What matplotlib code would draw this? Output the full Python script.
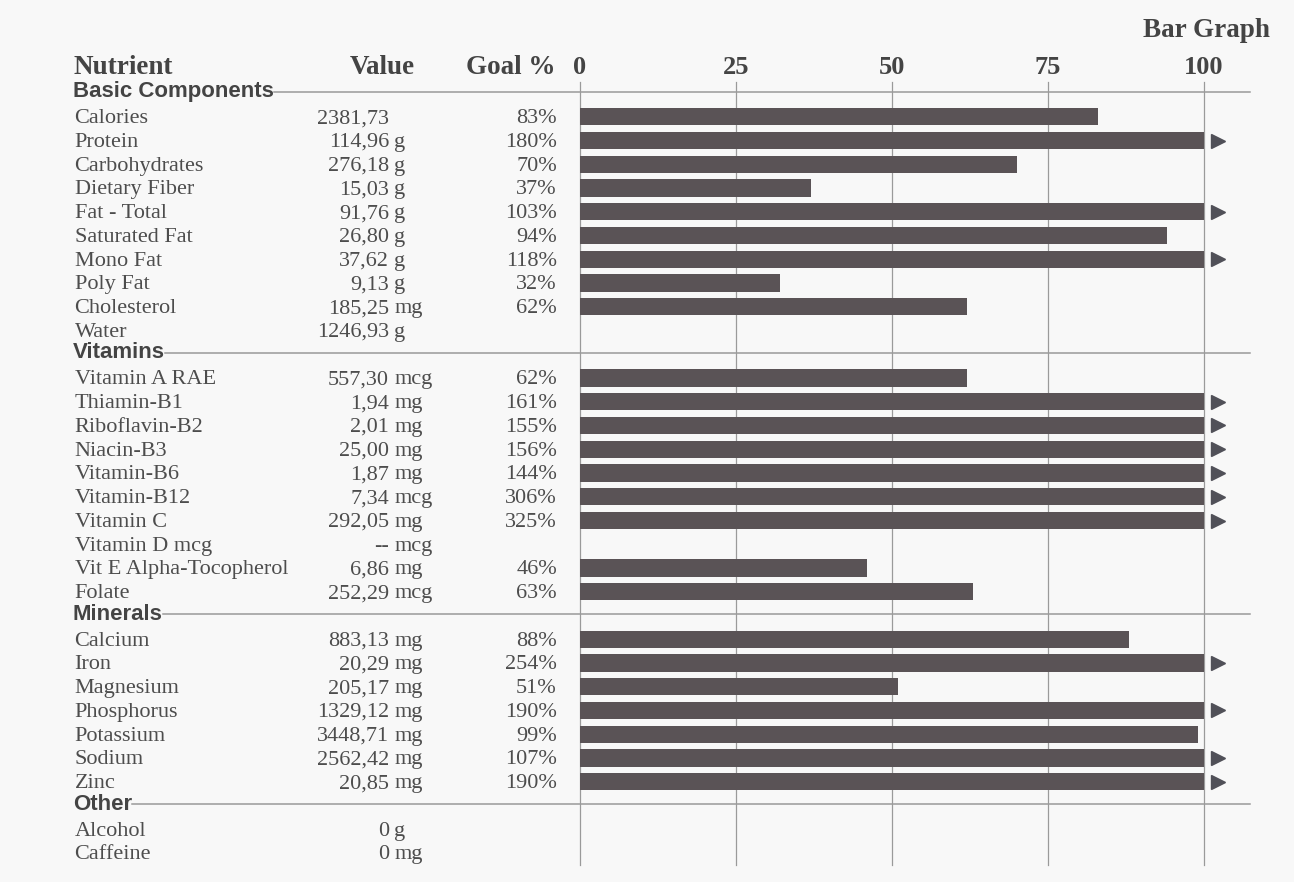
import matplotlib.pyplot as plt

# table data, grouped by section
sections = ["Basic Components", "Vitamins", "Minerals", "Other"]

names = [
    ["Calories", "Protein", "Carbohydrates", "Dietary Fiber", "Fat - Total",
     "Saturated Fat", "Mono Fat", "Poly Fat", "Cholesterol", "Water"],
    ["Vitamin A RAE", "Thiamin-B1", "Riboflavin-B2", "Niacin-B3", "Vitamin-B6",
     "Vitamin-B12", "Vitamin C", "Vitamin D mcg", "Vit E Alpha-Tocopherol", "Folate"],
    ["Calcium", "Iron", "Magnesium", "Phosphorus", "Potassium", "Sodium", "Zinc"],
    ["Alcohol", "Caffeine"],
]
amounts = [
    ["2381,73", "114,96", "276,18", "15,03", "91,76", "26,80", "37,62", "9,13", "185,25", "1246,93"],
    ["557,30", "1,94", "2,01", "25,00", "1,87", "7,34", "292,05", "--", "6,86", "252,29"],
    ["883,13", "20,29", "205,17", "1329,12", "3448,71", "2562,42", "20,85"],
    ["0", "0"],
]
units = [
    ["", "g", "g", "g", "g", "g", "g", "g", "mg", "g"],
    ["mcg", "mg", "mg", "mg", "mg", "mcg", "mg", "mcg", "mg", "mcg"],
    ["mg", "mg", "mg", "mg", "mg", "mg", "mg"],
    ["g", "mg"],
]
goals = [
    [83, 180, 70, 37, 103, 94, 118, 32, 62, None],
    [62, 161, 155, 156, 144, 306, 325, None, 46, 63],
    [88, 254, 51, 190, 99, 107, 190],
    [None, None],
]
ticks = [0, 25, 50, 75, 100]

bar_col = "#5a5356"
arrow_col = "#505058"
txt_col = "#4d4d4d"
head_col = "#444444"
line_col = "#9a9a9a"
serif = "Liberation Serif"
sans = "Liberation Sans"

fig = plt.figure(figsize=(12.94, 8.82), dpi=100, facecolor="#f8f8f8")
ax = fig.add_axes([0, 0, 1, 1])
ax.set_facecolor("#f8f8f8")
ax.axis("off")
# 6.24 px per goal unit, bar zero at x=580 px; 23.75 px per row, row 0 at y=93 px
ax.set_xlim(-580 / 6.24, (1294 - 580) / 6.24)
ax.set_ylim((882 - 93) / 23.75, -93 / 23.75)

n_rows = sum(len(n) + 1 for n in names)

# grid lines and scale labels
for t in ticks:
    ax.plot([t, t], [-0.46, n_rows - 0.5], color=line_col, lw=0.9, zorder=1)
    ax.text(t, -0.8, str(t), ha="center", va="baseline", fontsize=19,
            fontweight="bold", family=serif, color=head_col)

# column headers
ax.text(-81.25, -0.8, "Nutrient", ha="left", va="baseline", fontsize=19.5,
        fontweight="bold", family=serif, color=head_col)
ax.text(-26.4, -0.8, "Value", ha="right", va="baseline", fontsize=19.5,
        fontweight="bold", family=serif, color=head_col)
ax.text(-4.0, -0.8, "Goal %", ha="right", va="baseline", fontsize=19.5,
        fontweight="bold", family=serif, color=head_col)
ax.text(110.6, -2.36, "Bar Graph", ha="right", va="baseline", fontsize=19.5,
        fontweight="bold", family=serif, color=head_col)

fig.canvas.draw()
renderer = fig.canvas.get_renderer()

row = 0
for s, title in enumerate(sections):
    t = ax.text(-81.25, row + 0.17, title, ha="left", va="baseline", fontsize=16,
                fontweight="bold", family=sans, color=head_col)
    bb = t.get_window_extent(renderer).transformed(ax.transData.inverted())
    ax.plot([bb.x1, 107.4], [row - 0.06, row - 0.06], color=line_col, lw=1.1, zorder=1)
    row += 1
    for i, name in enumerate(names[s]):
        y = row + 0.27
        ax.text(-81.0, y, name, ha="left", va="baseline", fontsize=16,
                family=serif, color=txt_col)
        ax.text(-30.6, y, amounts[s][i], ha="right", va="baseline", fontsize=16,
                family=serif, color=txt_col)
        if units[s][i]:
            ax.text(-29.8, y, units[s][i], ha="left", va="baseline", fontsize=16,
                    family=serif, color=txt_col)
        g = goals[s][i]
        if g is not None:
            ax.text(-3.7, y, f"{g}%", ha="right", va="baseline", fontsize=16,
                    family=serif, color=txt_col)
            ax.barh(row, min(g, 100), height=0.72, left=0, color=bar_col, zorder=2)
            if g > 100:
                ax.plot(102.3, row, marker=">", markersize=10.5, color=arrow_col,
                        linestyle="none", zorder=2)
        row += 1

fig.savefig("out.png", dpi=100, facecolor=fig.get_facecolor())
